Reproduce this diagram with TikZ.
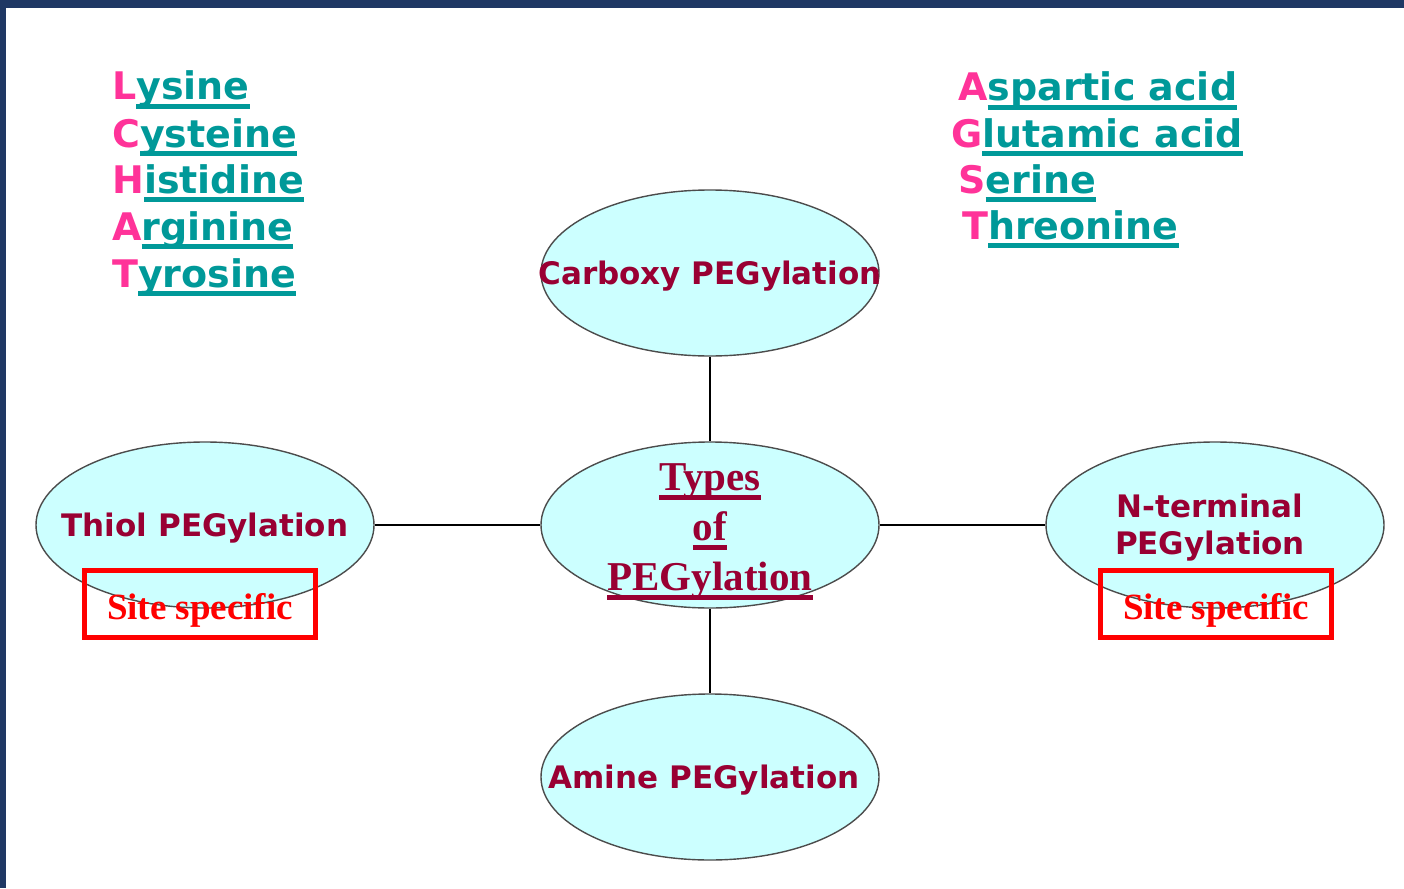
\documentclass[tikz,border=0pt]{standalone}
\usepackage{fontspec}
\setmainfont{DejaVu Sans}
\newfontfamily\tnr{Liberation Serif}
\usetikzlibrary{shapes.geometric}
\definecolor{slideblue}{HTML}{1F3864}
\definecolor{pinkc}{HTML}{FF3399}
\definecolor{tealc}{HTML}{009999}
\definecolor{wine}{HTML}{990033}
\definecolor{cyanfill}{HTML}{CCFFFF}
\newcommand\listul[1]{\leavevmode\setbox0\hbox{#1}\rlap{\rule[-9pt]{\wd0}{5pt}}\box0}
\newcommand\typul[1]{\leavevmode\setbox0\hbox{#1}\rlap{\rule[-10pt]{\wd0}{5pt}}\box0}
\tikzset{
  listitem/.style={anchor=base west, inner sep=0pt, text=tealc, font=\bfseries\fontsize{38}{44}\selectfont},
  oval/.style={ellipse, draw=black!70, line width=1.4pt, fill=cyanfill, inner sep=0pt,
    minimum width=338pt, minimum height=166pt},
  ovaltext/.style={inner sep=0pt, text=wine, align=center, font=\bfseries\fontsize{31}{37}\selectfont},
  oneline/.style={text height=22pt, text depth=0pt},
  sitebox/.style={draw=red, line width=5pt, minimum width=231pt, minimum height=67pt, inner sep=0pt,
    text=red, text height=30pt, text depth=0pt, font=\tnr\bfseries\fontsize{37}{40}\selectfont},
  link/.style={line width=2.5pt, black}
}
\begin{document}
\begin{tikzpicture}[x=1pt,y=-1pt]
\fill[slideblue] (0,0) rectangle (1404,888);
\fill[white] (6,8) rectangle (1404,888);
% left list
\node[listitem] (lys) at (112,100) {\textcolor{pinkc}{L}\listul{ysine}};
\node[listitem] (cys) at (112,147) {\textcolor{pinkc}{C}\listul{ysteine}};
\node[listitem] (his) at (112,193) {\textcolor{pinkc}{H}\listul{istidine}};
\node[listitem] (arg) at (112,240) {\textcolor{pinkc}{A}\listul{rginine}};
\node[listitem] (tyr) at (112,287) {\textcolor{pinkc}{T}\listul{yrosine}};
% right list
\node[listitem] (asp) at (958,101) {\textcolor{pinkc}{A}\listul{spartic acid}};
\node[listitem] (glu) at (951,147) {\textcolor{pinkc}{G}\listul{lutamic acid}};
\node[listitem] (ser) at (958,193) {\textcolor{pinkc}{S}\listul{erine}};
\node[listitem] (thr) at (962,239) {\textcolor{pinkc}{T}\listul{hreonine}};
% ovals
\node[oval] (carb) at (710,273) {};
\node[oval] (types) at (710,525) {};
\node[oval] (thiol) at (205,525) {};
\node[oval] (nterm) at (1215,525) {};
\node[oval] (amine) at (710,777) {};
% connectors
\draw[link] (carb) -- (types);
\draw[link] (types) -- (amine);
\draw[link] (thiol) -- (types);
\draw[link] (types) -- (nterm);
% oval labels
\node[ovaltext, oneline] (carbt) at (710,273) {Carboxy PEGylation};
\node[ovaltext, font=\tnr\bfseries\fontsize{41}{50}\selectfont] (typest) at (710,532)
  {\typul{Types}\\\typul{of}\\\typul{PEGylation}};
\node[ovaltext, oneline] (thiolt) at (205,525) {Thiol PEGylation};
\node[ovaltext] (ntermt) at (1210,528) {N-terminal\\PEGylation};
\node[ovaltext, oneline] (aminet) at (704,777) {Amine PEGylation};
% site specific boxes
\node[sitebox] (site1) at (200,604) {Site specific};
\node[sitebox] (site2) at (1216,604) {Site specific};
\end{tikzpicture}
\end{document}
